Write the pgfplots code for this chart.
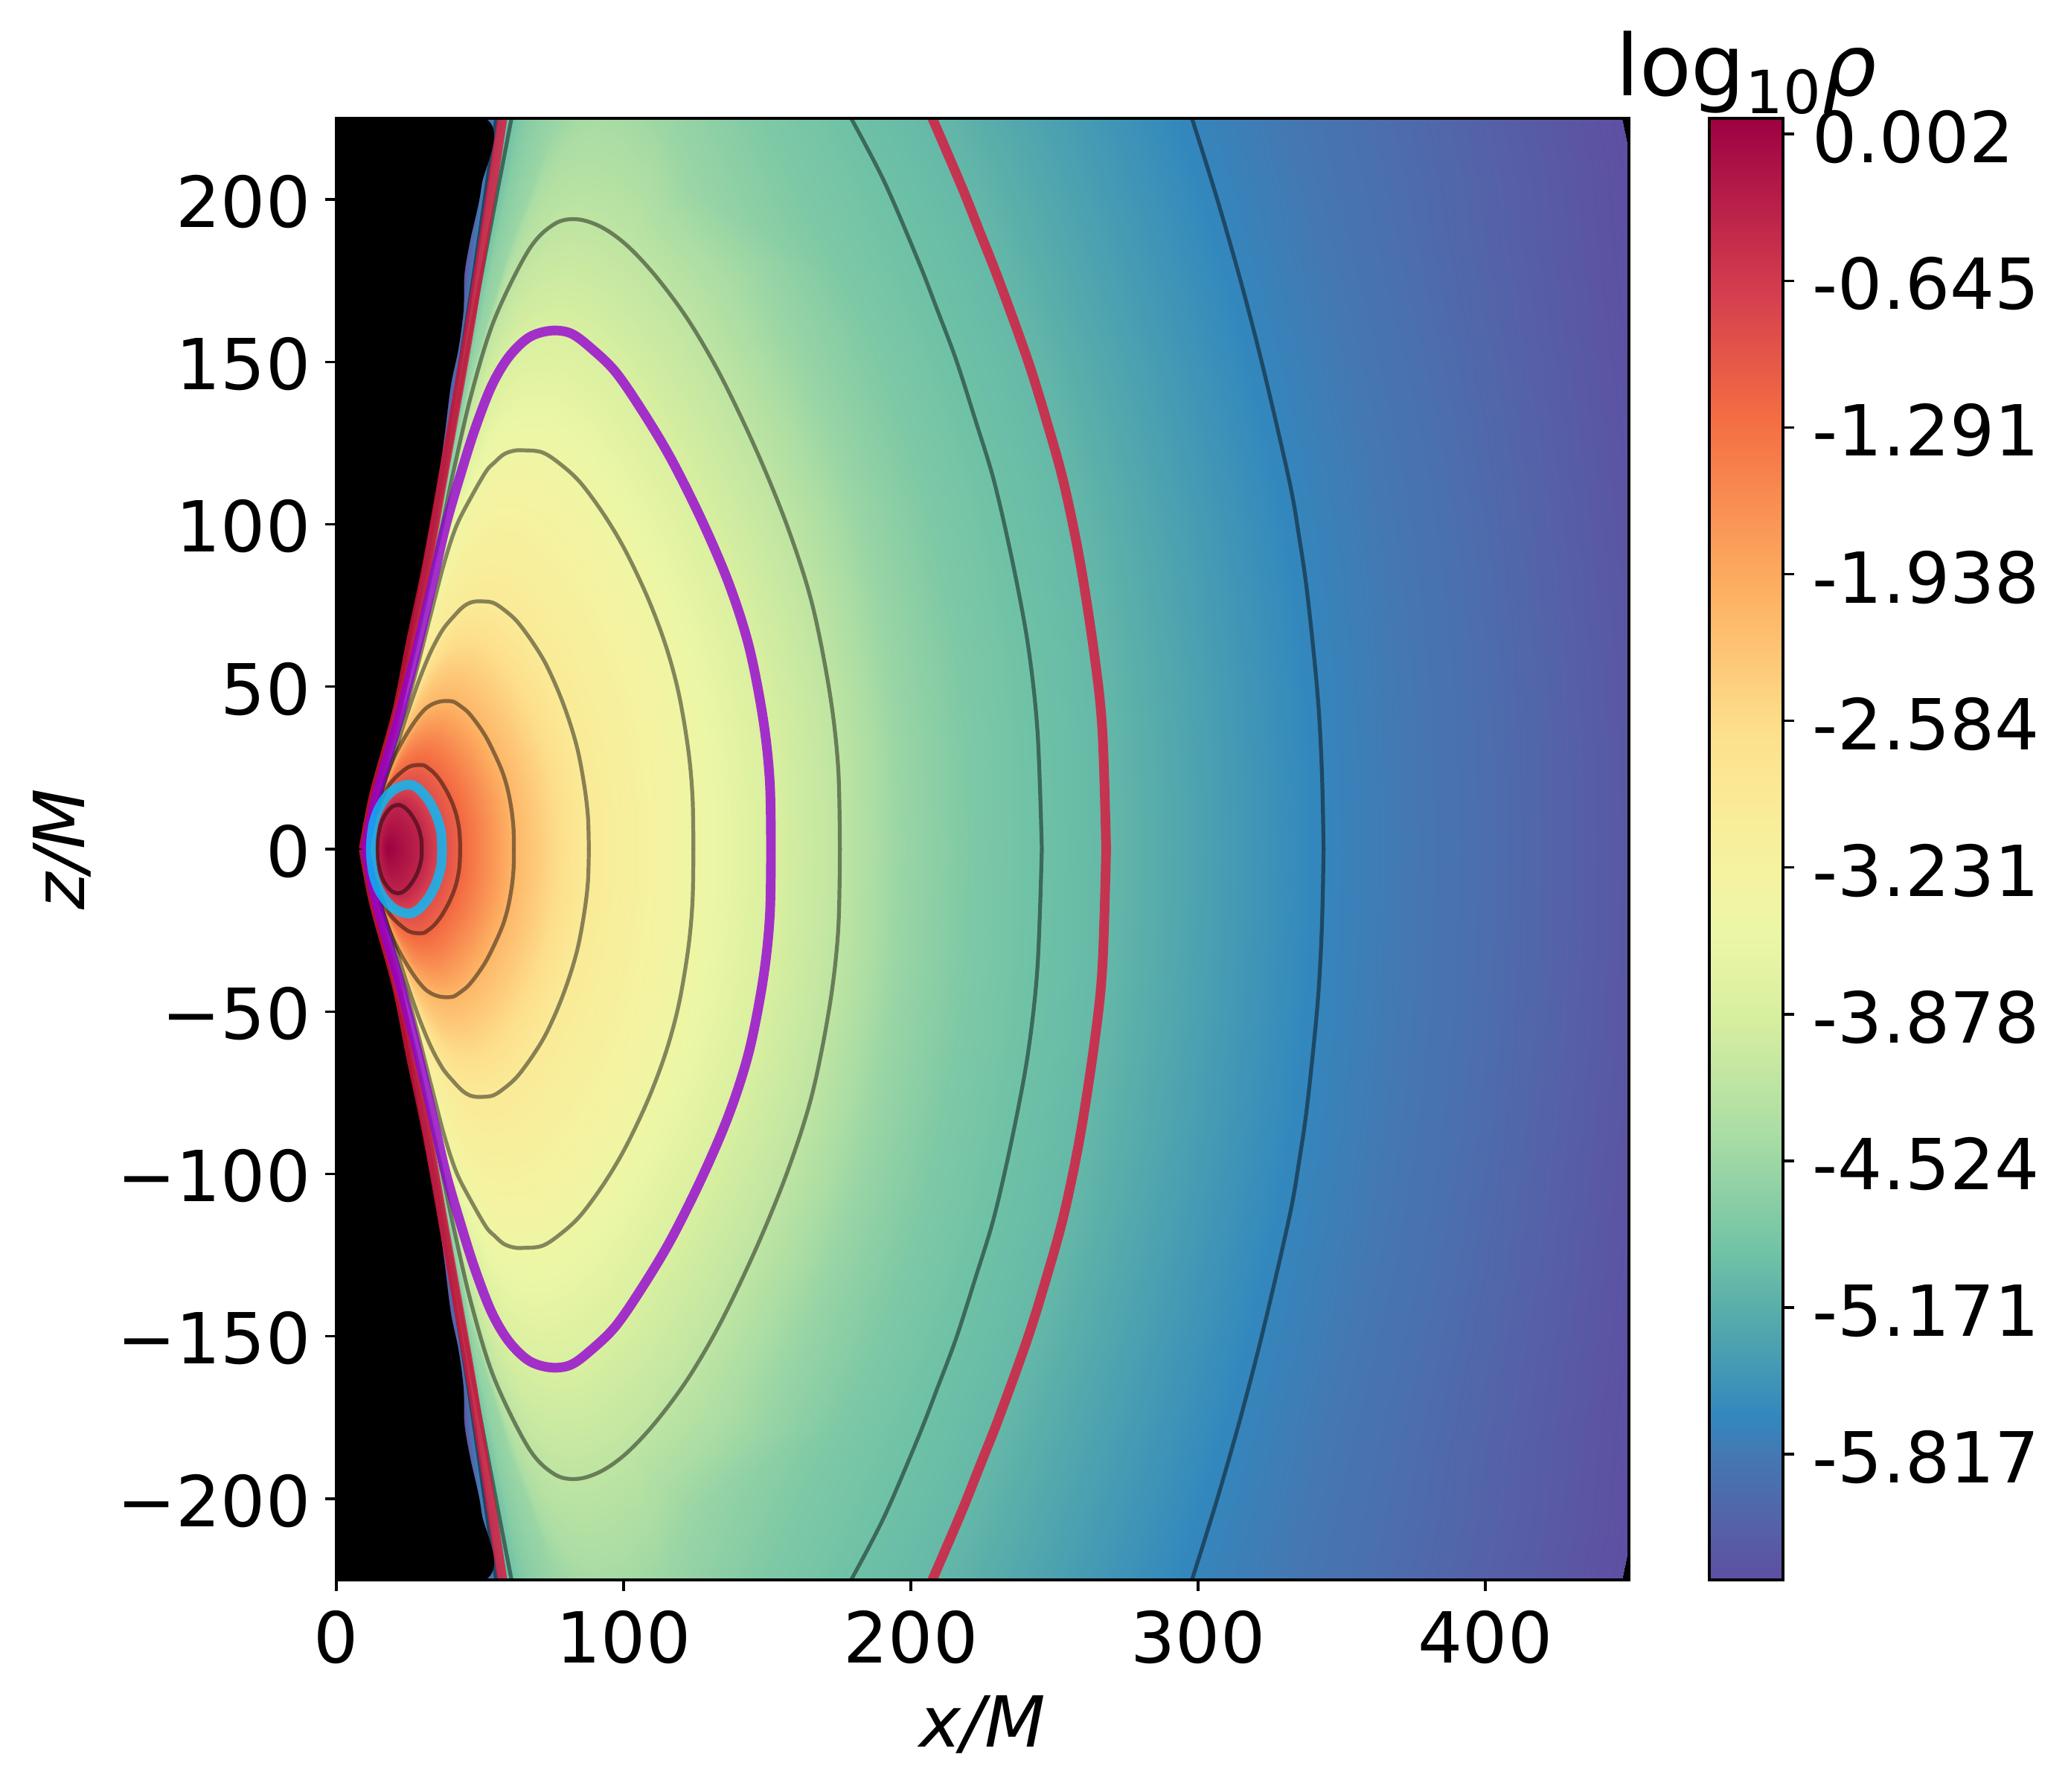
\documentclass[border=0pt]{standalone}
\usepackage{fontspec}
\setmainfont{DejaVu Sans}
\usepackage{pgfplots}
\usepackage{pgfplotstable}
\pgfplotsset{compat=1.18}

\definecolor{lred}{HTML}{DC143C}
\definecolor{lpurple}{HTML}{9400D3}
\definecolor{lcyan}{HTML}{00BFFF}

% colormap stops, position = (value+6.371)*100
\pgfplotsset{colormap={spec}{
  rgb255(0pt)=(94,79,162) rgb255(30pt)=(82,102,170) rgb255(55pt)=(68,120,179)
  rgb255(72pt)=(50,136,189) rgb255(120pt)=(90,174,170) rgb255(143pt)=(111,194,166)
  rgb255(197pt)=(171,221,164) rgb255(249pt)=(216,239,160) rgb255(285pt)=(236,247,166)
  rgb255(314pt)=(245,242,160) rgb255(347pt)=(251,233,150) rgb255(375pt)=(253,223,139)
  rgb255(438pt)=(253,174,97) rgb255(512pt)=(244,109,67) rgb255(567pt)=(213,62,79)
  rgb255(644pt)=(158,1,66)}}

% iso-density rings, upper half: 23 points per ring
\pgfplotstableread[row sep=\\]{
x z v\\
17.6 0 0.071\\17.6 0 0.071\\17.6 0 0.071\\17.6 0 0.071\\17.6 0 0.071\\17.6 0 0.071\\17.6 0 0.071\\17.6 0 0.071\\17.6 0 0.071\\17.6 0 0.071\\17.6 0 0.071\\17.6 0 0.071\\17.6 0 0.071\\17.6 0 0.071\\17.6 0 0.071\\17.6 0 0.071\\17.6 0 0.071\\17.6 0 0.071\\17.6 0 0.071\\17.6 0 0.071\\17.6 0 0.071\\17.6 0 0.071\\17.6 0 0.071\\
29.7 0 -0.38\\29.7 1.8 -0.38\\29.5 3.4 -0.38\\29 5.3 -0.38\\28.4 6.9 -0.38\\27.5 8.6 -0.38\\26.4 10.2 -0.38\\25.4 11.4 -0.38\\24.2 12.5 -0.38\\23.1 13.2 -0.38\\22.3 13.5 -0.38\\21.5 13.6 -0.38\\20.8 13.5 -0.38\\19.7 13.2 -0.38\\18.65 12.5 -0.38\\17.6 11.4 -0.38\\16.7 10.2 -0.38\\15.8 8.6 -0.38\\15.2 6.9 -0.38\\14.8 5.3 -0.38\\14.4 3.4 -0.38\\14.3 1.6 -0.38\\14.2 0 -0.38\\
36.8 0 -0.85\\36.7 2.6 -0.85\\36.5 5 -0.85\\35.8 7.7 -0.85\\34.9 10.1 -0.85\\33.7 12.5 -0.85\\32.2 14.9 -0.85\\30.7 16.6 -0.85\\29.1 18.2 -0.85\\27.7 19.1 -0.85\\26.5 19.7 -0.85\\25.2 19.8 -0.85\\23.9 19.7 -0.85\\22 19.2 -0.85\\19.9 18.2 -0.85\\17.9 16.6 -0.85\\16.4 14.9 -0.85\\14.8 12.5 -0.85\\13.7 10.1 -0.85\\12.9 7.7 -0.85\\12.4 5 -0.85\\12.1 2.4 -0.85\\12 0 -0.85\\
43.1 0 -1.15\\43 3.4 -1.15\\42.7 6.5 -1.15\\41.9 10.1 -1.15\\40.8 13.2 -1.15\\39.3 16.3 -1.15\\37.4 19.4 -1.15\\35.6 21.8 -1.15\\33.6 23.8 -1.15\\31.9 25 -1.15\\30.5 25.8 -1.15\\28.8 25.9 -1.15\\27.2 25.8 -1.15\\25.2 25.3 -1.15\\22.8 23.8 -1.15\\20.3 21.8 -1.15\\18 19.3 -1.15\\16 15.5 -1.15\\14.4 12 -1.15\\13 8.5 -1.15\\12 5 -1.15\\11.5 2.5 -1.15\\11.2 0 -1.15\\
61.8 0 -2.1\\61.7 5.9 -2.1\\61.1 11.4 -2.1\\59.8 17.8 -2.1\\58 23.3 -2.1\\55.4 28.7 -2.1\\52.3 34.2 -2.1\\49.3 38.3 -2.1\\46 42 -2.1\\43.1 44.1 -2.1\\40.7 45.4 -2.1\\37.9 45.6 -2.1\\36 45.4 -2.1\\33.6 44.7 -2.1\\31 43.2 -2.1\\28.4 40.6 -2.1\\25.8 37.3 -2.1\\23 33.2 -2.1\\20.2 28.5 -2.1\\17.4 22.5 -2.1\\14.6 14.5 -2.1\\12.2 7 -2.1\\10.8 0 -2.1\\
87.9 0 -2.95\\87.6 9.9 -2.95\\86.4 19.1 -2.95\\84.2 29.8 -2.95\\81.3 38.9 -2.95\\77.5 48.1 -2.95\\72.8 57.2 -2.95\\68 64.1 -2.95\\62.8 70.2 -2.95\\58.2 73.8 -2.95\\54.4 75.9 -2.95\\50 76.3 -2.95\\47 76 -2.95\\44 74.5 -2.95\\40.5 71.3 -2.95\\37 67.5 -2.95\\33 61 -2.95\\29 52.5 -2.95\\24.6 41.5 -2.95\\20.4 30 -2.95\\16 18.5 -2.95\\12.6 8.5 -2.95\\10.5 0 -2.95\\
124.3 0 -3.42\\124 16 -3.42\\122.5 30.7 -3.42\\119.2 47.9 -3.42\\114.7 62.6 -3.42\\108.4 77.4 -3.42\\100.5 92.1 -3.42\\93 103.2 -3.42\\84.8 113 -3.42\\77.6 118.8 -3.42\\71.5 122.2 -3.42\\64.6 122.8 -3.42\\61.5 122.6 -3.42\\58.2 121.5 -3.42\\55 119 -3.42\\52.2 116.4 -3.42\\47 108.5 -3.42\\41.8 99.5 -3.42\\37.5 88 -3.42\\32.7 71.7 -3.42\\26.3 50 -3.42\\16.8 22 -3.42\\10.3 0 -3.42\\
151.3 0 -3.86\\150.9 20.7 -3.86\\148.6 39.9 -3.86\\143.7 62.2 -3.86\\136.8 81.4 -3.86\\127.6 100.5 -3.86\\116.8 119.7 -3.86\\107.1 134.1 -3.86\\97.3 146.8 -3.86\\88.6 154.3 -3.86\\81.6 158.8 -3.86\\74.5 159.6 -3.86\\67 157.5 -3.86\\60 151.5 -3.86\\54 142.5 -3.86\\48.2 129.2 -3.86\\43.3 115.5 -3.86\\38.2 100 -3.86\\34 84 -3.86\\28.7 64 -3.86\\22.3 42 -3.86\\14.2 17 -3.86\\10.1 0 -3.86\\
175.3 0 -4.18\\174.7 25.2 -4.18\\171.7 48.5 -4.18\\165.6 75.6 -4.18\\157.2 98.9 -4.18\\146.5 122.2 -4.18\\134 145.4 -4.18\\122.5 162.9 -4.18\\111 176.6 -4.18\\101 186 -4.18\\92.3 191.5 -4.18\\83.9 193.9 -4.18\\76 192.5 -4.18\\67 184.5 -4.18\\55 163 -4.18\\47 140 -4.18\\40.6 115.5 -4.18\\36.9 100 -4.18\\32.8 84 -4.18\\27.8 64 -4.18\\21.8 42 -4.18\\13.9 17 -4.18\\9.9 0 -4.18\\
196 0 -4.55\\195 32 -4.55\\191.5 56 -4.55\\187 80 -4.55\\180 105 -4.55\\170 130 -4.55\\158 155 -4.55\\146 180 -4.55\\124 202 -4.55\\114 225 -4.55\\104 236 -4.55\\95 240 -4.55\\85 234 -4.55\\76 222 -4.55\\62 190 -4.55\\46.5 145 -4.55\\39.8 115.5 -4.55\\36 100 -4.55\\32.4 84 -4.55\\27.3 64 -4.55\\21.6 42 -4.55\\13.7 17 -4.55\\9.8 0 -4.55\\
220 0 -4.8\\219 32 -4.8\\216 56 -4.8\\211 80 -4.8\\205 105 -4.8\\196 130 -4.8\\186 155 -4.8\\173.5 178 -4.8\\162 197 -4.8\\148 225 -4.8\\125 265 -4.8\\105 290 -4.8\\88 285 -4.8\\72 250 -4.8\\64 225 -4.8\\49 165 -4.8\\38.6 115.5 -4.8\\35.4 100 -4.8\\32 84 -4.8\\26.9 64 -4.8\\21.4 42 -4.8\\13.5 17 -4.8\\9.7 0 -4.8\\
245.6 0 -4.95\\244.1 36.2 -4.95\\240.8 62.8 -4.95\\235.5 88 -4.95\\229 113.2 -4.95\\222.5 132 -4.95\\215.7 150.8 -4.95\\209 166.5 -4.95\\202.5 181.3 -4.95\\190.6 205.8 -4.95\\178.6 226 -4.95\\125 310 -4.95\\95 305 -4.95\\75 270 -4.95\\61.2 226 -4.95\\48 165 -4.95\\37.9 115.5 -4.95\\34.8 100 -4.95\\31.4 84 -4.95\\26.4 64 -4.95\\21.2 42 -4.95\\13.4 17 -4.95\\9.6 0 -4.95\\
268 0 -5.05\\266.7 36.2 -5.05\\264 59.1 -5.05\\259 88 -5.05\\253.3 112.5 -5.05\\247.2 132 -5.05\\240.6 150.8 -5.05\\230.7 175 -5.05\\224 190 -5.05\\217.6 204.2 -5.05\\207 226 -5.05\\140 315 -5.05\\105 315 -5.05\\75 275 -5.05\\58 226 -5.05\\47.4 166 -5.05\\37.3 115.5 -5.05\\34.2 100 -5.05\\30.8 84 -5.05\\26 64 -5.05\\21 42 -5.05\\13.2 17 -5.05\\9.5 0 -5.05\\
343.7 0 -5.68\\343.1 24 -5.68\\341.6 47.7 -5.68\\338.1 78.1 -5.68\\335.2 96 -5.68\\331.8 113.2 -5.68\\323 146.9 -5.68\\315.2 173.7 -5.68\\306.6 200.3 -5.68\\297.5 226 -5.68\\280 270 -5.68\\165 335 -5.68\\115 335 -5.68\\78 285 -5.68\\55.8 226 -5.68\\46 166 -5.68\\36.7 115.5 -5.68\\33.7 100 -5.68\\30.3 84 -5.68\\25.7 64 -5.68\\20.7 42 -5.68\\13 17 -5.68\\9.4 0 -5.68\\
395 0 -5.93\\394 32 -5.93\\392 60 -5.93\\389 85 -5.93\\385 110 -5.93\\381 130 -5.93\\376 150 -5.93\\370 172 -5.93\\364 197 -5.93\\357 225 -5.93\\340 270 -5.93\\195 345 -5.93\\130 350 -5.93\\80 295 -5.93\\53 225 -5.93\\45 166 -5.93\\36.2 115.5 -5.93\\33.3 100 -5.93\\30 84 -5.93\\25.4 64 -5.93\\20.4 42 -5.93\\12.8 17 -5.93\\9.3 0 -5.93\\
468 0 -6.371\\467 32 -6.371\\465.5 60 -6.371\\463.5 85 -6.371\\461 110 -6.371\\459 130 -6.371\\457 150 -6.371\\454.5 172 -6.371\\451 210 -6.371\\447.3 225 -6.371\\430 270 -6.371\\230 350 -6.371\\140 360 -6.371\\85 300 -6.371\\50 225 -6.371\\43 166 -6.371\\35.5 115.5 -6.371\\32.7 100 -6.371\\29.3 84 -6.371\\25 64 -6.371\\19.7 42 -6.371\\12.3 17 -6.371\\9 0 -6.371\\
}\rings

% edge of the excised funnel, upper half
\pgfplotstableread{
x z
0 225
51.6 225
50.5 204
46.6 187.4
44.6 177
44.3 166
42.5 154
39.9 143
37.9 129
35.8 115
33.7 104
30.6 89
27.5 74
25.4 63
23.6 55
20.2 43
15.8 27.7
11.1 12.4
9.4 0
0 0
}\wall

% one stretch of the ring table, upper half and its mirror image
\newcommand{\ringline}[3]{%
  \addplot[#1] table[x=x,y=z,skip coords between index={0}{#2},skip coords between index={#3}{999}]{\rings};
  \addplot[#1] table[x=x,y expr=-\thisrow{z},skip coords between index={0}{#2},skip coords between index={#3}{999}]{\rings};
}

\begin{document}
\begin{tikzpicture}[x=1pt,y=1pt]
\useasboundingbox (0,0) rectangle (666.96,577.92);
\begin{axis}[
  at={(108.48pt,68.4pt)}, anchor=south west,
  scale only axis, width=416.88pt, height=471.36pt,
  xmin=0, xmax=450, ymin=-225, ymax=225,
  axis background/.style={fill=black},
  axis line style={line width=0.8pt},
  axis on top,
  tick align=outside, tick pos=left,
  major tick length=3.5pt,
  every tick/.style={black,line width=0.8pt},
  xtick={0,100,200,300,400}, xticklabels={0,100,200,300,400},
  ytick={-200,-150,-100,-50,0,50,100,150,200},
  yticklabels={−200,−150,−100,−50,0,50,100,150,200},
  tick label style={font=\fontsize{22.7}{26}\selectfont},
  xticklabel style={yshift=-3pt},
  yticklabel style={xshift=-1.3pt,yshift=-0.7pt},
  label style={font=\fontsize{22.7}{26}\selectfont},
  xlabel={\textit{x/M}}, ylabel={\textit{z/M}},
  xlabel shift=3.2pt, ylabel shift=1.7pt,
  colormap name=spec,
  point meta min=-6.371, point meta max=0.071,
]
\addplot[surf,shader=interp,mesh/rows=16,mesh/cols=23,point meta=\thisrow{v}] table[x=x,y=z]{\rings};
\addplot[surf,shader=interp,mesh/rows=16,mesh/cols=23,point meta=\thisrow{v}] table[x=x,y expr=-\thisrow{z}]{\rings};
\addplot[fill=black,draw=none] table[x=x,y=z]{\wall};
\addplot[fill=black,draw=none] table[x=x,y expr=-\thisrow{z}]{\wall};
\pgfplotsset{every axis plot/.append style={no markers,smooth,tension=0.55,line join=round}}
% thin contours
\ringline{black,draw opacity=0.45,line width=1.25pt}{23}{46}
\ringline{black,draw opacity=0.45,line width=1.25pt}{69}{92}
\ringline{black,draw opacity=0.45,line width=1.25pt}{92}{115}
\ringline{black,draw opacity=0.45,line width=1.25pt}{115}{138}
\ringline{black,draw opacity=0.45,line width=1.25pt}{138}{161}
\ringline{black,draw opacity=0.45,line width=1.25pt}{184}{207}
\ringline{black,draw opacity=0.45,line width=1.25pt}{253}{264}
\ringline{black,draw opacity=0.45,line width=1.25pt}{267}{276}
\ringline{black,draw opacity=0.45,line width=1.25pt}{299}{309}
\ringline{black,draw opacity=0.45,line width=1.25pt}{313}{322}
% marked contours
\ringline{lred,draw opacity=0.8,line width=3.1pt}{276}{287}
\ringline{lred,draw opacity=0.8,line width=3.1pt}{290}{299}
\ringline{lpurple,draw opacity=0.8,line width=3.1pt}{161}{184}
\ringline{lcyan,draw opacity=0.8,line width=3.1pt}{46}{69}
\end{axis}
% colorbar
\begin{axis}[
  at={(551.28pt,68.4pt)}, anchor=south west,
  scale only axis, width=23.76pt, height=471.36pt,
  xmin=0, xmax=1, ymin=-6.371, ymax=0.071,
  axis line style={line width=0.8pt},
  axis on top,
  xtick=\empty,
  ytick={0.002,-0.645,-1.291,-1.938,-2.584,-3.231,-3.878,-4.524,-5.171,-5.817},
  yticklabels={0.002,-0.645,-1.291,-1.938,-2.584,-3.231,-3.878,-4.524,-5.171,-5.817},
  ytick pos=right, yticklabel pos=right,
  tick align=outside, major tick length=3.5pt,
  every tick/.style={black,line width=0.8pt},
  yticklabel style={font=\fontsize{22.7}{26}\selectfont,xshift=2.5pt,yshift=-1pt},
  title={\fontsize{27.4}{30}\selectfont log\textsubscript{10}\textit{ρ}},
  title style={at={(0.5,1)},anchor=base,yshift=1.2pt},
  colormap name=spec,
  point meta min=-6.371, point meta max=0.071,
]
\addplot[surf,shader=interp,mesh/rows=2,mesh/cols=2,point meta=y] table[x=x,y=y]{
x y
0 -6.371
1 -6.371
0 0.071
1 0.071
};
\end{axis}
\end{tikzpicture}
\end{document}
